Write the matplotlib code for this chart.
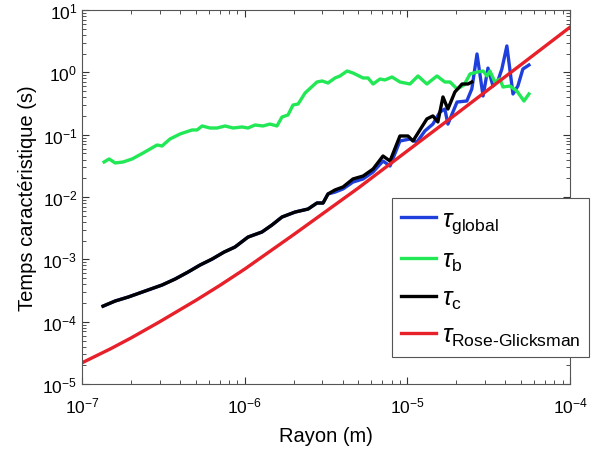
import matplotlib
matplotlib.use('Agg')
import matplotlib.pyplot as plt
import numpy as np

plt.rcParams['font.family'] = ['Liberation Sans', 'DejaVu Sans']
plt.rcParams['mathtext.fontset'] = 'custom'
plt.rcParams['mathtext.rm'] = 'Liberation Sans'
plt.rcParams['mathtext.it'] = 'Liberation Sans:italic'

# tau_b (green)
r_b = [1.365e-7, 1.466e-7, 1.596e-7, 1.787e-7, 2.03e-7, 2.37e-7, 2.89e-7, 3.10e-7,
       3.47e-7, 4.00e-7, 4.74e-7, 5.09e-7, 5.47e-7, 6.12e-7, 6.76e-7, 7.57e-7,
       8.48e-7, 9.62e-7, 1.047e-6, 1.156e-6, 1.294e-6, 1.429e-6, 1.578e-6, 1.694e-6,
       1.845e-6, 1.98e-6, 2.13e-6, 2.35e-6, 2.78e-6, 2.99e-6, 3.25e-6, 3.59e-6,
       3.85e-6, 4.26e-6, 4.63e-6, 5.34e-6, 5.73e-6, 6.15e-6, 6.79e-6, 7.28e-6,
       8.04e-6, 9.0e-6, 1.037e-5, 1.162e-5, 1.318e-5, 1.52e-5, 1.70e-5, 1.83e-5,
       2.02e-5, 2.23e-5, 2.43e-5, 2.68e-5, 2.92e-5, 3.09e-5, 3.22e-5, 3.45e-5,
       3.71e-5, 3.87e-5, 4.27e-5, 4.71e-5, 5.21e-5, 5.59e-5]
tau_b = [0.0365, 0.0408, 0.0352, 0.0365, 0.0408, 0.0508, 0.0684, 0.0659,
         0.0853, 0.1026, 0.119, 0.119, 0.138, 0.128, 0.128, 0.138,
         0.128, 0.133, 0.128, 0.143, 0.138, 0.148, 0.138, 0.192,
         0.207, 0.299, 0.311, 0.467, 0.700, 0.727, 0.675, 0.812,
         0.874, 1.05, 0.976, 0.812, 0.812, 0.650, 0.782, 0.754,
         0.842, 0.700, 0.650, 0.874, 0.650, 0.874, 0.700, 0.700,
         0.541, 0.627, 0.942, 1.01, 1.05, 0.874, 1.05, 0.700,
         0.782, 0.582, 0.604, 0.502, 0.347, 0.450]

# tau_c (black)
r_c = [1.345e-7, 1.596e-7, 1.92e-7, 2.44e-7, 3.10e-7, 3.73e-7, 4.48e-7, 5.31e-7,
       6.29e-7, 7.46e-7, 8.71e-7, 1.047e-6, 1.276e-6, 1.47e-6, 1.694e-6, 2.04e-6,
       2.45e-6, 2.78e-6, 3.03e-6, 3.25e-6, 3.59e-6, 4.02e-6, 4.63e-6, 5.34e-6,
       6.15e-6, 7.08e-6, 7.82e-6, 9.0e-6, 1.009e-5, 1.082e-5, 1.318e-5, 1.435e-5,
       1.54e-5, 1.655e-5, 1.775e-5, 1.96e-5, 2.17e-5, 2.36e-5, 2.49e-5]
tau_c = [1.78e-4, 2.15e-4, 2.49e-4, 3.11e-4, 3.88e-4, 4.84e-4, 6.27e-4, 8.12e-4,
         1.01e-3, 1.31e-3, 1.58e-3, 2.28e-3, 2.75e-3, 3.56e-3, 4.78e-3, 5.75e-3,
         6.42e-3, 8.02e-3, 8.02e-3, 0.0112, 0.0130, 0.0145, 0.0195, 0.0217,
         0.0281, 0.0455, 0.0378, 0.0953, 0.0953, 0.0792, 0.179, 0.200,
         0.160, 0.403, 0.258, 0.484, 0.650, 0.650, 0.700]

# tau_global (blue): same as tau_c at small radii, then its own values
r_global_tail = [3.59e-6, 4.02e-6, 4.63e-6, 5.34e-6, 6.15e-6, 7.08e-6, 7.82e-6, 9.0e-6,
                 1.037e-5, 1.145e-5, 1.282e-5, 1.435e-5, 1.585e-5, 1.70e-5, 1.775e-5,
                 2.02e-5, 2.32e-5, 2.49e-5, 2.68e-5, 2.92e-5, 3.13e-5, 3.36e-5,
                 3.60e-5, 3.81e-5, 4.09e-5, 4.46e-5, 4.78e-5, 5.13e-5, 5.59e-5]
tau_global_tail = [0.0120, 0.0135, 0.0174, 0.0195, 0.0252, 0.0378, 0.0315, 0.0792,
                   0.0853, 0.0763, 0.115, 0.148, 0.231, 0.258, 0.148,
                   0.334, 0.347, 0.541, 1.97, 0.418, 1.17, 0.604,
                   0.727, 1.13, 2.65, 0.450, 0.604, 1.13, 1.31]
r_global = r_c[:20] + r_global_tail
tau_global = tau_c[:20] + tau_global_tail

# tau_Rose-Glicksman (red)
r_rg = [1e-7, 1.5e-7, 2e-7, 3e-7, 5e-7, 7e-7, 1e-6, 2e-6, 5e-6, 1e-5, 2e-5, 5e-5, 1e-4]
tau_rg = [2.2e-5, 3.7e-5, 5.5e-5, 1.0e-4, 2.2e-4, 3.8e-4, 7.0e-4, 2.5e-3, 1.4e-2,
          5.5e-2, 0.215, 1.33, 5.3]

fig = plt.figure(figsize=(5.95, 4.52), dpi=100)
ax = fig.add_axes([0.138, 0.148, 0.82, 0.8277])

lw = 2.4
ax.plot(r_global, tau_global, color='#1f3fdd', lw=lw, label=r'$\tau_{\mathrm{global}}$')
ax.plot(r_b, tau_b, color='#22e855', lw=lw, label=r'$\tau_{\mathrm{b}}$')
ax.plot(r_c, tau_c, color='black', lw=lw, label=r'$\tau_{\mathrm{c}}$')
ax.plot(r_rg, tau_rg, color='#e8202a', lw=lw, label=r'$\tau_{\mathrm{Rose\text{-}Glicksman}}$')

ax.set_xscale('log')
ax.set_yscale('log')
ax.set_xlim(1e-7, 1e-4)
ax.set_ylim(1e-5, 1e1)

ax.set_xlabel('Rayon (m)', fontsize=14.5, labelpad=8)
ax.set_ylabel('Temps caractéristique (s)', fontsize=14.5, labelpad=4)

ax.tick_params(which='both', direction='in', top=True, right=True, colors='#333333',
               labelcolor='black', labelsize=12.5)
ax.tick_params(axis='x', which='major', pad=8)
ax.tick_params(which='major', length=5)
ax.tick_params(which='minor', length=3)
for s in ax.spines.values():
    s.set_color('#555555')
    s.set_linewidth(0.8)

leg = ax.legend(loc='upper left', bbox_to_anchor=(0.635, 0.497), fontsize=18,
                fancybox=False, framealpha=1, edgecolor='#555555',
                handlelength=1.4, handletextpad=0.25, labelspacing=0.5,
                borderpad=0.35, borderaxespad=0)
leg.get_frame().set_linewidth(0.8)

fig.savefig('out.png', dpi=100)
